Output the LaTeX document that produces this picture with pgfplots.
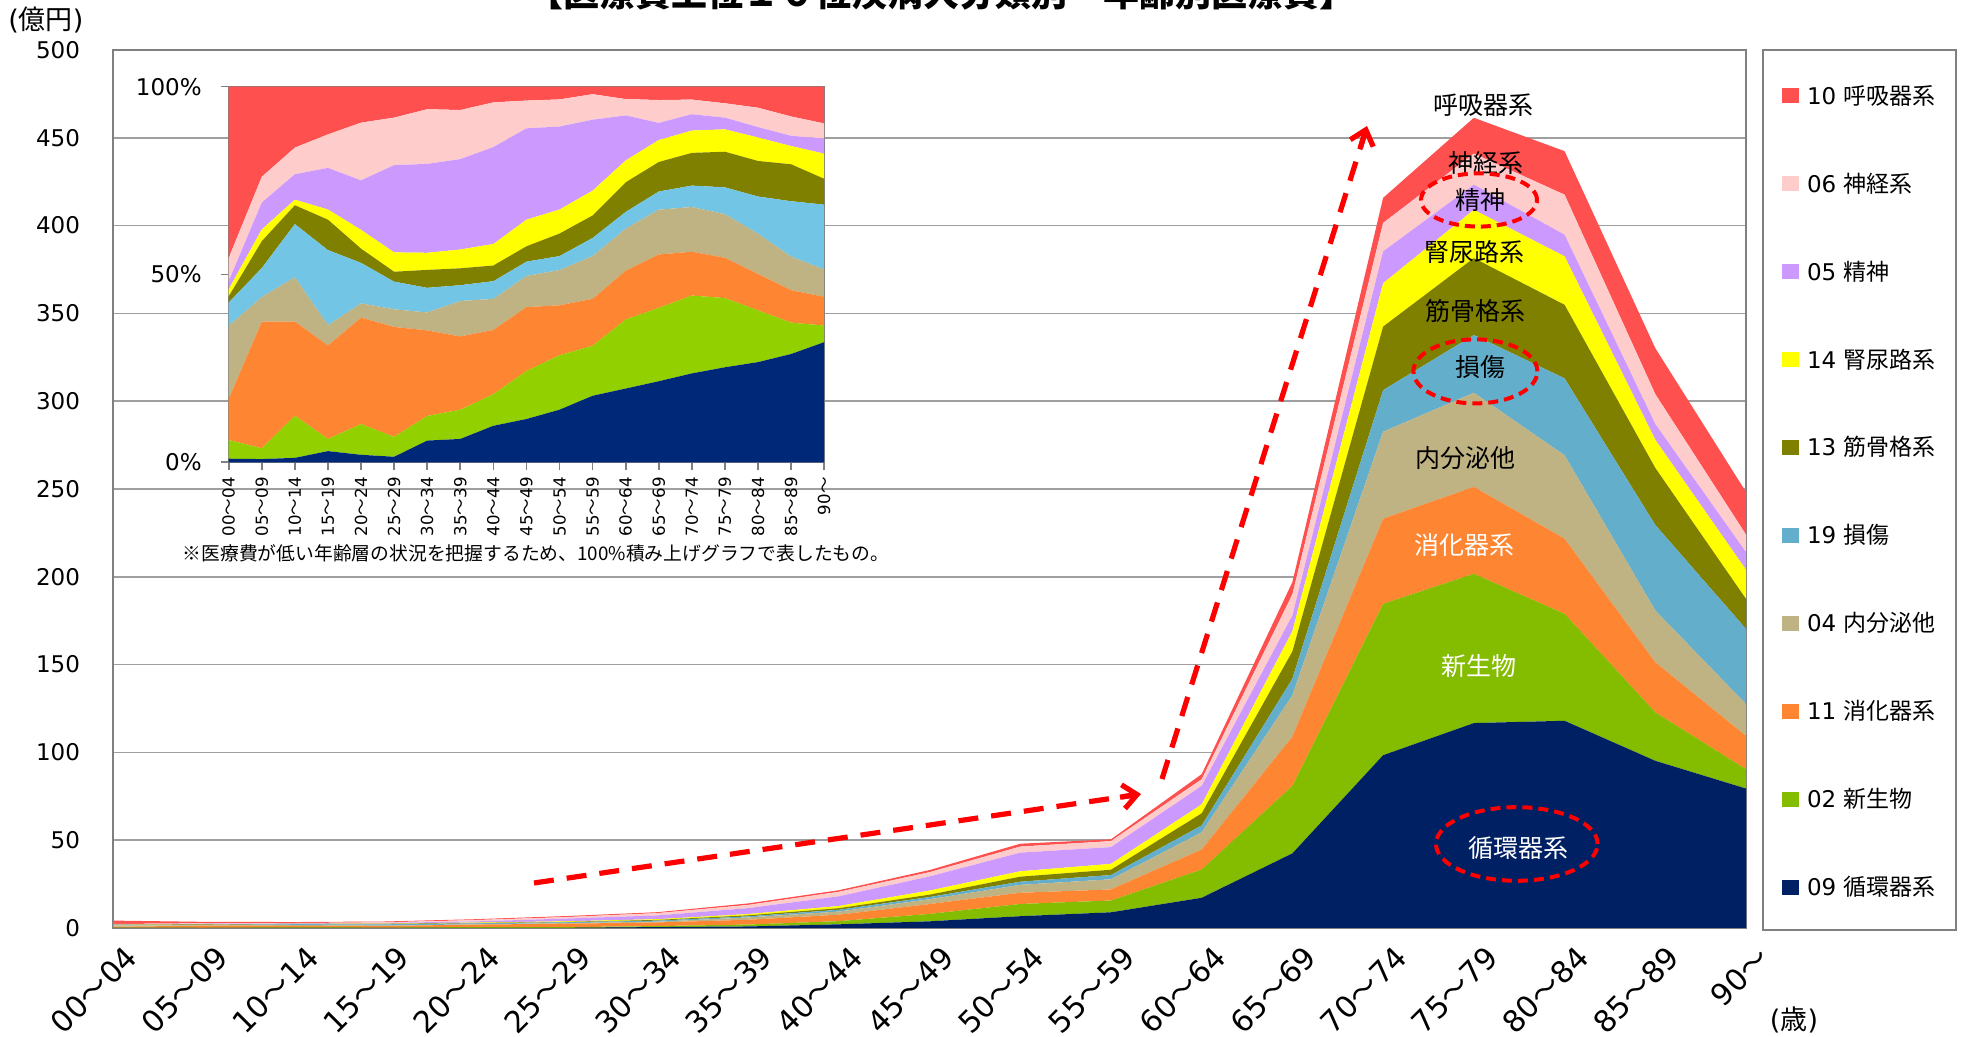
\documentclass[border=0pt]{standalone}
\usepackage{fontspec}
\setmainfont{DejaVu Sans}
\newfontfamily\jp{Noto Sans CJK JP}
\usepackage{pgfplots}
\usepackage{pgfplotstable}
\pgfplotsset{compat=1.18}
\usetikzlibrary{arrows.meta}

\definecolor{cCirc}{RGB}{0,32,100}
\definecolor{cNeo}{RGB}{132,188,0}
\definecolor{cDig}{RGB}{254,133,50}
\definecolor{cEndo}{RGB}{192,179,131}
\definecolor{cInj}{RGB}{99,174,203}
\definecolor{cMusc}{RGB}{128,128,0}
\definecolor{cUri}{RGB}{255,255,0}
\definecolor{cPsy}{RGB}{204,153,255}
\definecolor{cNerv}{RGB}{255,204,204}
\definecolor{cResp}{RGB}{255,80,80}
\definecolor{cCircI}{RGB}{0,40,120}
\definecolor{cNeoI}{RGB}{146,208,0}
\definecolor{cInjI}{RGB}{114,197,229}

% age group index, medical cost per disease group (100 million yen), total
\pgfplotstableread{
i circ neo dig endo inj musc uri psy nerv resp tot
0 0.04 0.21 0.46 0.82 0.26 0.07 0.08 0.09 0.26 1.92 4.21
1 0.03 0.10 1.18 0.23 0.27 0.25 0.11 0.25 0.24 0.84 3.50
2 0.04 0.38 0.85 0.40 0.48 0.17 0.05 0.23 0.24 0.55 3.39
3 0.11 0.12 0.92 0.20 0.74 0.30 0.10 0.41 0.33 0.47 3.70
4 0.10 0.41 1.42 0.19 0.54 0.19 0.25 0.66 0.77 0.48 5.01
5 0.10 0.36 1.99 0.32 0.50 0.18 0.35 1.58 0.86 0.56 6.80
6 0.52 0.59 2.05 0.43 0.59 0.43 0.41 2.13 1.31 0.54 9.00
7 0.87 1.09 2.73 1.32 0.59 0.63 0.70 3.37 1.83 0.87 14.00
8 2.09 1.81 3.68 1.78 1.01 0.90 1.23 5.55 2.56 0.90 21.51
9 3.80 4.22 5.61 2.74 1.25 1.35 2.34 8.02 2.44 1.22 32.99
10 6.72 6.96 6.38 4.51 1.78 2.88 3.07 10.61 3.46 1.63 48.00
11 8.94 6.72 6.31 5.76 2.42 3.03 3.33 9.54 3.43 1.01 50.49
12 17.2 16.1 11.4 9.8 3.9 6.9 5.1 10.5 3.8 2.9 87.6
13 42.5 38.5 28.0 23.5 9.5 15.5 11.5 9.0 12.0 7.0 197.0
14 98.4 86.2 48.5 49.5 23.7 36.2 24.7 18.1 16.2 14.3 415.8
15 116.7 85.0 49.5 53.6 32.9 43.8 27.5 14.3 17.7 20.4 461.4
16 118.0 60.9 42.8 47.5 43.8 41.9 27.6 12.3 22.8 24.8 442.4
17 95.2 27.6 28.5 29.5 48.7 32.5 16.0 9.0 17.0 26.2 330.2
18 79.4 11.0 19.0 18.1 42.8 17.1 16.6 10.0 10.0 24.3 248.3
}\data

\newcommand{\tl}{{\jp ～}}
\newcommand{\agelabels}{00\tl04,05\tl09,10\tl14,15\tl19,20\tl24,25\tl29,30\tl34,35\tl39,40\tl44,45\tl49,50\tl54,55\tl59,60\tl64,65\tl69,70\tl74,75\tl79,80\tl84,85\tl89,90\tl}

\begin{document}
\begin{tikzpicture}
\useasboundingbox (0,0) rectangle (985pt,518.5pt);

% main stacked area chart
\begin{axis}[
  at={(56.5pt,54.5pt)}, anchor=south west,
  width=816.5pt, height=439pt, scale only axis,
  xmin=0, xmax=18, ymin=0, ymax=500,
  stack plots=y,
  xtick={0,...,18},
  xticklabels/.expand once={\agelabels},
  ytick={0,50,...,500},
  major tick length=0pt,
  ymajorgrids,
  grid style={gray!75, line width=0.8pt},
  axis line style={gray, line width=1pt},
  /pgf/number format/assume math mode=true,
  xticklabel style={rotate=45, anchor=east, font=\fontsize{15}{17}\selectfont, yshift=-15pt, xshift=1.5pt},
  yticklabel style={font=\fontsize{11.5}{13}\selectfont, xshift=-13pt},
]
\addplot[fill=cCirc, draw=none] table[x=i, y=circ] {\data} \closedcycle;
\addplot[fill=cNeo,  draw=none] table[x=i, y=neo]  {\data} \closedcycle;
\addplot[fill=cDig,  draw=none] table[x=i, y=dig]  {\data} \closedcycle;
\addplot[fill=cEndo, draw=none] table[x=i, y=endo] {\data} \closedcycle;
\addplot[fill=cInj,  draw=none] table[x=i, y=inj]  {\data} \closedcycle;
\addplot[fill=cMusc, draw=none] table[x=i, y=musc] {\data} \closedcycle;
\addplot[fill=cUri,  draw=none] table[x=i, y=uri]  {\data} \closedcycle;
\addplot[fill=cPsy,  draw=none] table[x=i, y=psy]  {\data} \closedcycle;
\addplot[fill=cNerv, draw=none] table[x=i, y=nerv] {\data} \closedcycle;
\addplot[fill=cResp, draw=none] table[x=i, y=resp] {\data} \closedcycle;
\end{axis}

% inset: 100% stacked
\begin{axis}[
  at={(114.35pt,287.35pt)}, anchor=south west,
  width=297.75pt, height=187.8pt, scale only axis,
  xmin=0, xmax=18, ymin=0, ymax=100,
  stack plots=y,
  xtick={0,...,18},
  xticklabels/.expand once={\agelabels},
  ytick={0,50,100},
  yticklabels={0\%,50\%,100\%},
  tick align=outside, major tick length=4pt,
  tick style={gray, line width=0.8pt},
  axis line style={gray, line width=0.8pt},
  xtick pos=bottom, ytick pos=left,
  xticklabel style={rotate=90, anchor=east, font=\fontsize{8.3}{9}\selectfont},
  yticklabel style={font=\fontsize{11.5}{13}\selectfont, xshift=-6pt},
]
\addplot[fill=cCircI, draw=none] table[x=i, y expr=100*\thisrow{circ}/\thisrow{tot}] {\data} \closedcycle;
\addplot[fill=cNeoI,  draw=none] table[x=i, y expr=100*\thisrow{neo}/\thisrow{tot}]  {\data} \closedcycle;
\addplot[fill=cDig,   draw=none] table[x=i, y expr=100*\thisrow{dig}/\thisrow{tot}]  {\data} \closedcycle;
\addplot[fill=cEndo,  draw=none] table[x=i, y expr=100*\thisrow{endo}/\thisrow{tot}] {\data} \closedcycle;
\addplot[fill=cInjI,  draw=none] table[x=i, y expr=100*\thisrow{inj}/\thisrow{tot}]  {\data} \closedcycle;
\addplot[fill=cMusc,  draw=none] table[x=i, y expr=100*\thisrow{musc}/\thisrow{tot}] {\data} \closedcycle;
\addplot[fill=cUri,   draw=none] table[x=i, y expr=100*\thisrow{uri}/\thisrow{tot}]  {\data} \closedcycle;
\addplot[fill=cPsy,   draw=none] table[x=i, y expr=100*\thisrow{psy}/\thisrow{tot}]  {\data} \closedcycle;
\addplot[fill=cNerv,  draw=none] table[x=i, y expr=100*\thisrow{nerv}/\thisrow{tot}] {\data} \closedcycle;
\addplot[fill=cResp,  draw=none] table[x=i, y expr=100*\thisrow{resp}/\thisrow{tot}] {\data} \closedcycle;
\end{axis}

% title (cut off at the top edge as in the source)
\node[anchor=base, font=\jp\bfseries\fontsize{18}{20}\selectfont] at (470.5pt,515pt)
  {【医療費上位１０位疾病大分類別　年齢別医療費】};
\node[font=\fontsize{13.5}{15}\selectfont] at (23pt,508.5pt) {({\jp 億円})};
\node[font=\fontsize{13.5}{15}\selectfont] at (897pt,8.5pt) {({\jp 歳})};
\node[font=\jp\fontsize{9.4}{11}\selectfont] at (268pt,242pt)
  {※医療費が低い年齢層の状況を把握するため、100\%積み上げグラフで表したもの。};

% legend
\draw[gray, line width=1pt] (881.5pt,53.5pt) rectangle (978pt,493.5pt);
\foreach \c/\n/\t [count=\k from 0] in {cResp/10/呼吸器系, cNerv/06/神経系, cPsy/05/精神,
    cUri/14/腎尿路系, cMusc/13/筋骨格系, cInj/19/損傷, cEndo/04/内分泌他,
    cDig/11/消化器系, cNeo/02/新生物, cCirc/09/循環器系} {
  \pgfmathsetmacro{\yy}{470.6-43.975*\k}
  \fill[\c] (890.8pt,\yy pt-3.75pt) rectangle (899.5pt,\yy pt+3.75pt);
  \node[anchor=base west, inner sep=0pt, font=\fontsize{11.5}{13}\selectfont]
    at (903.3pt,\yy pt-4.2pt) {\n\ {\jp\t}};
}

% labels on the areas
\begin{scope}[font=\jp\fontsize{12.5}{14}\selectfont]
\node at (741.7pt,466pt) {呼吸器系};
\node at (743pt,436.8pt) {神経系};
\node at (740pt,418.5pt) {精神};
\node at (737pt,392.7pt) {腎尿路系};
\node at (737.5pt,363.2pt) {筋骨格系};
\node at (740pt,334.8pt) {損傷};
\node at (732.8pt,289.3pt) {内分泌他};
\node[text=white] at (732.2pt,246pt) {消化器系};
\node[text=white] at (739.5pt,185.7pt) {新生物};
\node[text=white] at (759.2pt,94.3pt) {循環器系};
\end{scope}

% red dashed ellipses and arrows
\begin{scope}[red, line width=2pt, dash pattern=on 5pt off 3pt]
\draw (739.5pt,418.5pt) ellipse [x radius=29pt, y radius=13.3pt];
\draw (737.7pt,332.8pt) ellipse [x radius=31pt, y radius=16pt];
\draw (758.4pt,96.5pt) ellipse [x radius=40.4pt, y radius=18.4pt];
\end{scope}
\begin{scope}[red, line width=2.6pt]
\draw[dash pattern=on 10pt off 6.5pt] (267pt,77pt) -- (566pt,120.8pt);
\draw[-{Straight Barb[length=7pt,width=12pt]}] (560pt,119.9pt) -- (570.5pt,121.5pt);
\draw[dash pattern=on 10pt off 6.5pt] (581pt,129pt) -- (682pt,450.5pt);
\draw[-{Straight Barb[length=7pt,width=12pt]}] (680.3pt,445pt) -- (683.5pt,455.5pt);
\end{scope}
\end{tikzpicture}
\end{document}
